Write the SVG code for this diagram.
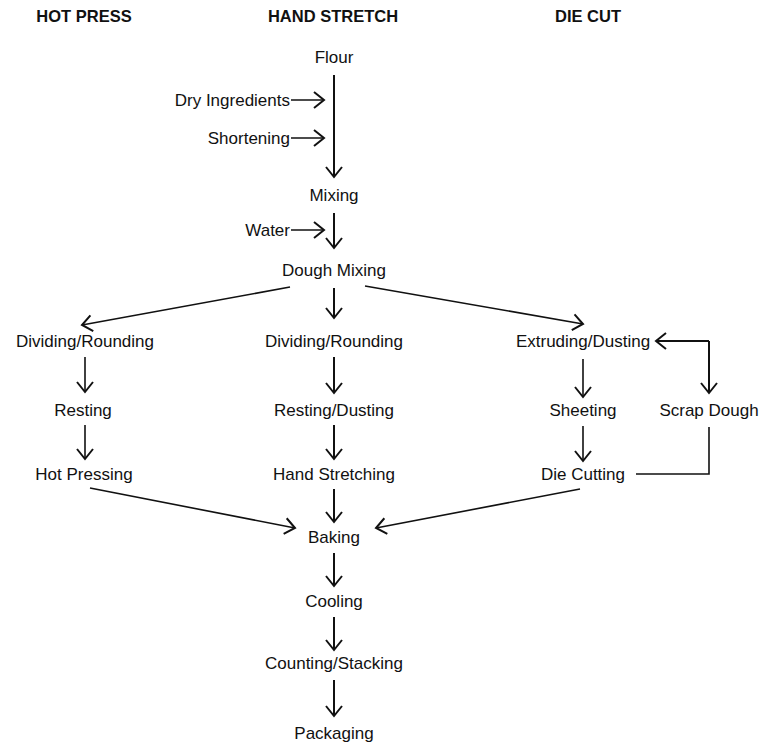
<svg xmlns="http://www.w3.org/2000/svg" width="759" height="744" viewBox="0 0 759 744">
<defs>
<style>
text{font-family:"Liberation Sans",Arial,sans-serif;font-size:17px;fill:#111;text-anchor:middle}
.h{font-weight:bold;font-size:16.5px}
.e{text-anchor:end}
.c{fill:none;stroke:#111;stroke-width:2}
.t{fill:none;stroke:#111;stroke-width:1.6}
</style>
<marker id="a" markerUnits="userSpaceOnUse" markerWidth="16" markerHeight="20" refX="13" refY="10" orient="auto" viewBox="0 0 16 20">
<path d="M3,2 L13,10 L3,18" fill="none" stroke="#111" stroke-width="2"/>
</marker>
</defs>
<rect width="759" height="744" fill="#fff"/>
<g id="headers">
<text class="h" x="84" y="22">HOT PRESS</text>
<text class="h" x="333" y="22">HAND STRETCH</text>
<text class="h" x="588" y="22">DIE CUT</text>
</g>
<g id="flour"><text x="334" y="63">Flour</text></g>
<g id="dry"><text class="e" x="290" y="106">Dry Ingredients</text></g>
<g id="shortening"><text class="e" x="290" y="144">Shortening</text></g>
<g id="mixing"><text x="334" y="201">Mixing</text></g>
<g id="water"><text class="e" x="290" y="236">Water</text></g>
<g id="doughmixing"><text x="334" y="276">Dough Mixing</text></g>
<g id="hp-divide"><text x="85" y="347">Dividing/Rounding</text></g>
<g id="hs-divide"><text x="334" y="347">Dividing/Rounding</text></g>
<g id="dc-extrude"><text x="583" y="347">Extruding/Dusting</text></g>
<g id="hp-rest"><text x="83" y="416">Resting</text></g>
<g id="hs-rest"><text x="334" y="416">Resting/Dusting</text></g>
<g id="dc-sheet"><text x="583" y="416">Sheeting</text></g>
<g id="scrap"><text x="709" y="416">Scrap Dough</text></g>
<g id="hp-press"><text x="84" y="480">Hot Pressing</text></g>
<g id="hs-stretch"><text x="334" y="480">Hand Stretching</text></g>
<g id="dc-cut"><text x="583" y="480">Die Cutting</text></g>
<g id="baking"><text x="334" y="543">Baking</text></g>
<g id="cooling"><text x="334" y="607">Cooling</text></g>
<g id="counting"><text x="334" y="669">Counting/Stacking</text></g>
<g id="packaging"><text x="334" y="739">Packaging</text></g>
<g id="connectors">
<path class="c" d="M334,75 V177" marker-end="url(#a)"/>
<path class="t" d="M291,100 H324" marker-end="url(#a)"/>
<path class="t" d="M291,138 H324" marker-end="url(#a)"/>
<path class="t" d="M291,230 H324" marker-end="url(#a)"/>
<path class="c" d="M334,213 V248" marker-end="url(#a)"/>
<path class="t" d="M290,287 L82,325" marker-end="url(#a)"/>
<path class="c" d="M334,288 V318" marker-end="url(#a)"/>
<path class="t" d="M365,286 L583,324" marker-end="url(#a)"/>
<path class="t" d="M85,357 V392" marker-end="url(#a)"/>
<path class="c" d="M334,357 V393" marker-end="url(#a)"/>
<path class="t" d="M583,359 V397" marker-end="url(#a)"/>
<path class="c" d="M709,341 H656" marker-end="url(#a)"/>
<path class="c" d="M709,341 V393" marker-end="url(#a)"/>
<path class="t" d="M85,425 V459" marker-end="url(#a)"/>
<path class="c" d="M334,425 V459" marker-end="url(#a)"/>
<path class="t" d="M583,426 V461" marker-end="url(#a)"/>
<path class="t" d="M709,427 V474 H636"/>
<path class="t" d="M90,488 L295,528" marker-end="url(#a)"/>
<path class="c" d="M334,489 V522" marker-end="url(#a)"/>
<path class="t" d="M580,489 L376,528" marker-end="url(#a)"/>
<path class="c" d="M334,553 V586" marker-end="url(#a)"/>
<path class="c" d="M334,617 V650" marker-end="url(#a)"/>
<path class="c" d="M334,680 V716" marker-end="url(#a)"/>
</g>
</svg>
